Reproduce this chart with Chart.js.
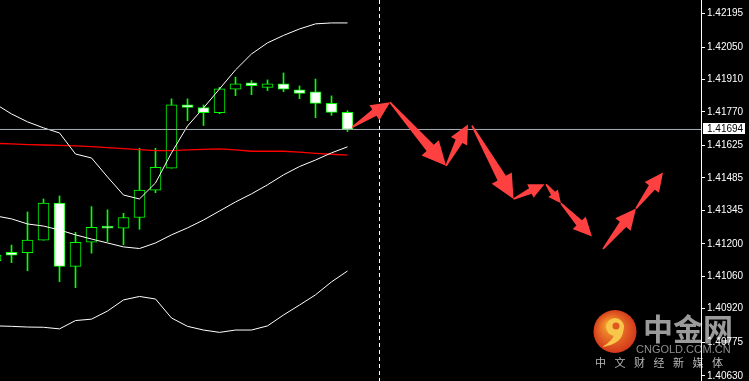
<!DOCTYPE html>
<html>
<head>
<meta charset="utf-8">
<script src="https://cdn.jsdelivr.net/npm/chart.js@4.4.1/dist/chart.umd.min.js"></script>
<style>
  html, body { margin: 0; padding: 0; background: #000; overflow: hidden; }
  #wrap { width: 749px; height: 381px; position: relative; }
</style>
</head>
<body>
<div id="wrap"><canvas id="chart"></canvas></div>
<script>
// ====== Data ======
// one slot per bar, slot 0 is cut off by the left edge
const opens  = [1.41128, 1.41164, 1.41162, 1.41216, 1.41376, 1.41103, 1.41207, 1.41277, 1.41268, 1.41314, 1.41432, 1.41527,
                1.41800, 1.41789, 1.41767, 1.41868, 1.41895, 1.41876, 1.41891, 1.41865, 1.41856, 1.41807, 1.41768];
const highs  = [1.41165, 1.41195, 1.41338, 1.41394, 1.41407, 1.41250, 1.41361, 1.41347, 1.41332, 1.41613, 1.41613, 1.41826,
                1.41826, 1.41800, 1.41876, 1.41920, 1.41905, 1.41908, 1.41938, 1.41882, 1.41912, 1.41839, 1.41775];
const lows   = [1.41113, 1.41119, 1.41084, 1.41216, 1.41037, 1.41011, 1.41160, 1.41210, 1.41196, 1.41263, 1.41421, 1.41527,
                1.41732, 1.41711, 1.41762, 1.41840, 1.41844, 1.41862, 1.41857, 1.41827, 1.41745, 1.41755, 1.41685];
const closes = [1.41152, 1.41151, 1.41216, 1.41376, 1.41103, 1.41207, 1.41272, 1.41268, 1.41314, 1.41432, 1.41531, 1.41800,
                1.41789, 1.41767, 1.41869, 1.41891, 1.41883, 1.41891, 1.41868, 1.41850, 1.41807, 1.41768, 1.41694];

const bbUpper  = [1.41804, 1.41761, 1.41727, 1.41701, 1.41679, 1.41588, 1.41571, 1.41489, 1.41411, 1.41394, 1.41463, 1.41593,
                  1.41709, 1.41787, 1.41869, 1.41951, 1.42020, 1.42068, 1.42100, 1.42128, 1.42150, 1.42154, 1.42154];
const bbMiddle = [1.41321, 1.41308, 1.41286, 1.41277, 1.41260, 1.41239, 1.41221, 1.41204, 1.41187, 1.41180, 1.41204, 1.41239,
                  1.41269, 1.41303, 1.41342, 1.41381, 1.41416, 1.41455, 1.41498, 1.41534, 1.41562, 1.41593, 1.41619];
const bbLower  = [1.40846, 1.40844, 1.40841, 1.40840, 1.40833, 1.40869, 1.40875, 1.40910, 1.40958, 1.40973, 1.40962, 1.40880,
                  1.40844, 1.40828, 1.40818, 1.40828, 1.40828, 1.40846, 1.40893, 1.40936, 1.40980, 1.41036, 1.41083];
const maSlow   = [1.41634, 1.41632, 1.41629, 1.41627, 1.41625, 1.41623, 1.41620, 1.41616, 1.41611, 1.41607, 1.41603, 1.41603,
                  1.41606, 1.41608, 1.41610, 1.41606, 1.41600, 1.41600, 1.41600, 1.41596, 1.41591, 1.41587, 1.41583];

const lastPrice = 1.41694;
const priceTicks = [1.42195, 1.42050, 1.41910, 1.41770, 1.41625, 1.41485, 1.41345, 1.41200, 1.41060, 1.40920, 1.40775, 1.40630];
const priceMin = 1.40608, priceMax = 1.42253;
const slotMin = 0.28125, slotMax = 44.09375;
const cursorSlot = 24;

// forecast arrows: [fromSlot, fromPrice, toSlot, toPrice]
const arrows = [
  [22.28, 1.41703, 24.66, 1.41811],
  [24.66, 1.41811, 28.16, 1.41537],
  [28.16, 1.41537, 29.53, 1.41716],
  [29.78, 1.41711, 32.38, 1.41394],
  [32.38, 1.41394, 34.31, 1.41457],
  [34.41, 1.41457, 35.34, 1.41375],
  [35.34, 1.41375, 37.28, 1.41232],
  [37.97, 1.41178, 40.03, 1.41353],
  [40.03, 1.41353, 41.72, 1.41508]
];

// ====== Styles ======
const candleGreen = '#00ff00';
const arrowRed = '#ff4040';
const axisFont = { family: '"Liberation Sans", Arial, sans-serif', size: 10 };

// ====== Helpers ======
const slots = closes.map((_, i) => i);
const asLine = arr => arr.map((v, i) => ({ x: i, y: v }));

function drawArrow(c, x1, y1, x2, y2) {
  const dx = x2 - x1, dy = y2 - y1, len = Math.hypot(dx, dy);
  const ux = dx / len, uy = dy / len, nx = -uy, ny = ux;
  const head = Math.min(24, len * 0.28 + 6);
  const hw = head * 0.48, sw = head * 0.2;
  const bx = x2 - ux * head, by = y2 - uy * head;
  c.beginPath();
  c.moveTo(x1 + nx * 0.8, y1 + ny * 0.8);
  c.lineTo(bx + nx * sw, by + ny * sw);
  c.lineTo(bx + nx * hw, by + ny * hw);
  c.lineTo(x2, y2);
  c.lineTo(bx - nx * hw, by - ny * hw);
  c.lineTo(bx - nx * sw, by - ny * sw);
  c.lineTo(x1 - nx * 0.8, y1 - ny * 0.8);
  c.closePath();
  c.fill();
}

function drawLogo(c) {
  const g = c.createRadialGradient(609, 325, 3, 615, 331.5, 23);
  g.addColorStop(0, '#f59a2c');
  g.addColorStop(1, '#d2321b');
  c.fillStyle = g;
  c.beginPath(); c.arc(615, 331.5, 21.5, 0, Math.PI * 2); c.fill();
  c.fillStyle = '#f8c64a';
  c.beginPath(); c.arc(615, 327, 9, 0, Math.PI * 2); c.fill();
  c.beginPath();
  c.moveTo(623.5, 329);
  c.quadraticCurveTo(623, 344, 602, 347);
  c.quadraticCurveTo(614, 340, 614, 334);
  c.closePath(); c.fill();
  c.fillStyle = '#e0571f';
  c.beginPath(); c.arc(616, 326, 3.5, 0, Math.PI * 2); c.fill();

  c.textBaseline = 'middle';
  c.textAlign = 'left';
  c.fillStyle = '#9b9b9b';
  c.font = 'bold 30px "Noto Sans CJK SC"';
  c.fillText('中金网', 643, 329);
  c.fillStyle = '#8e8e8e';
  c.font = '11px "Liberation Sans"';
  c.fillText('CNGOLD.COM.CN', 636, 350);
  c.fillStyle = '#b8b8b8';
  c.font = '11px "Noto Sans CJK SC"';
  '中文财经新媒体'.split('').forEach((ch, k) => c.fillText(ch, 595 + k * 19.5, 363));
}

// ====== Plugins ======
const backdrop = {
  id: 'backdrop',
  beforeDraw(chart) {
    const c = chart.ctx;
    c.save();
    c.fillStyle = '#000';
    c.fillRect(0, 0, chart.width, chart.height);
    drawLogo(c);
    c.restore();
  }
};

const overlay = {
  id: 'overlay',
  afterDatasetsDraw(chart) {
    const c = chart.ctx, xs = chart.scales.x, ys = chart.scales.y, area = chart.chartArea;
    c.save();
    const cx = Math.floor(xs.getPixelForValue(cursorSlot)) + 0.5;
    c.strokeStyle = '#ffffff';
    c.lineWidth = 1;
    c.setLineDash([4, 3]);
    c.beginPath(); c.moveTo(cx, area.top); c.lineTo(cx, area.bottom); c.stroke();
    c.setLineDash([]);
    c.fillStyle = arrowRed;
    arrows.forEach(a => drawArrow(c,
      xs.getPixelForValue(a[0]), ys.getPixelForValue(a[1]),
      xs.getPixelForValue(a[2]), ys.getPixelForValue(a[3])));
    c.restore();
  },
  afterDraw(chart) {
    const c = chart.ctx, ys = chart.scales.y;
    const y = ys.getPixelForValue(lastPrice);
    c.save();
    c.fillStyle = '#ffffff';
    c.fillRect(703, Math.round(y) - 6, 42, 11);
    c.fillStyle = '#000000';
    c.font = `${axisFont.size}px ${axisFont.family}`;
    c.textBaseline = 'middle';
    c.fillText(lastPrice.toFixed(5), 707, y);
    c.restore();
  }
};

// ====== Chart ======
const chart = new Chart(document.getElementById('chart'), {
  type: 'bar',
  data: {
    datasets: [
      { type: 'line', data: [{ x: slotMin, y: lastPrice }, { x: slotMax, y: lastPrice }],
        borderColor: '#a8aeb8', borderWidth: 1, pointRadius: 0, order: 1 },
      { type: 'line', data: asLine(bbUpper), borderColor: '#ffffff', borderWidth: 1, pointRadius: 0, tension: 0, order: 2 },
      { type: 'line', data: asLine(bbMiddle), borderColor: '#ffffff', borderWidth: 1, pointRadius: 0, tension: 0, order: 2 },
      { type: 'line', data: asLine(bbLower), borderColor: '#ffffff', borderWidth: 1, pointRadius: 0, tension: 0, order: 2 },
      { type: 'line', data: asLine(maSlow), borderColor: '#ff0000', borderWidth: 1.3, pointRadius: 0, tension: 0, order: 3 },
      { type: 'bar', data: slots.map(i => ({ x: i, y: [opens[i], closes[i]] })),
        backgroundColor: slots.map(i => closes[i] >= opens[i] ? '#000000' : '#ffffff'),
        borderColor: candleGreen, borderWidth: 1, borderSkipped: false,
        barThickness: 11, grouped: false, order: 4 },
      { type: 'bar', data: slots.map(i => ({ x: i, y: [lows[i], highs[i]] })),
        backgroundColor: candleGreen, borderWidth: 0, barThickness: 1, grouped: false, order: 5 }
    ]
  },
  options: {
    responsive: true,
    maintainAspectRatio: false,
    animation: false,
    layout: { padding: 0 },
    plugins: { legend: { display: false }, tooltip: { enabled: false } },
    scales: {
      x: { type: 'linear', min: slotMin, max: slotMax, offset: false, display: false },
      y: {
        position: 'right',
        min: priceMin,
        max: priceMax,
        afterBuildTicks: s => { s.ticks = priceTicks.map(v => ({ value: v })); },
        afterFit: s => { s.width = 48; s.paddingTop = 0; s.paddingBottom = 0; },
        grid: { drawOnChartArea: false, color: '#ffffff', tickLength: 4 },
        border: { color: '#ffffff', width: 1 },
        ticks: { color: '#ffffff', padding: 2, autoSkip: false, font: axisFont,
                 callback: v => Number(v).toFixed(5) }
      }
    }
  },
  plugins: [backdrop, overlay]
});
</script>
</body>
</html>
